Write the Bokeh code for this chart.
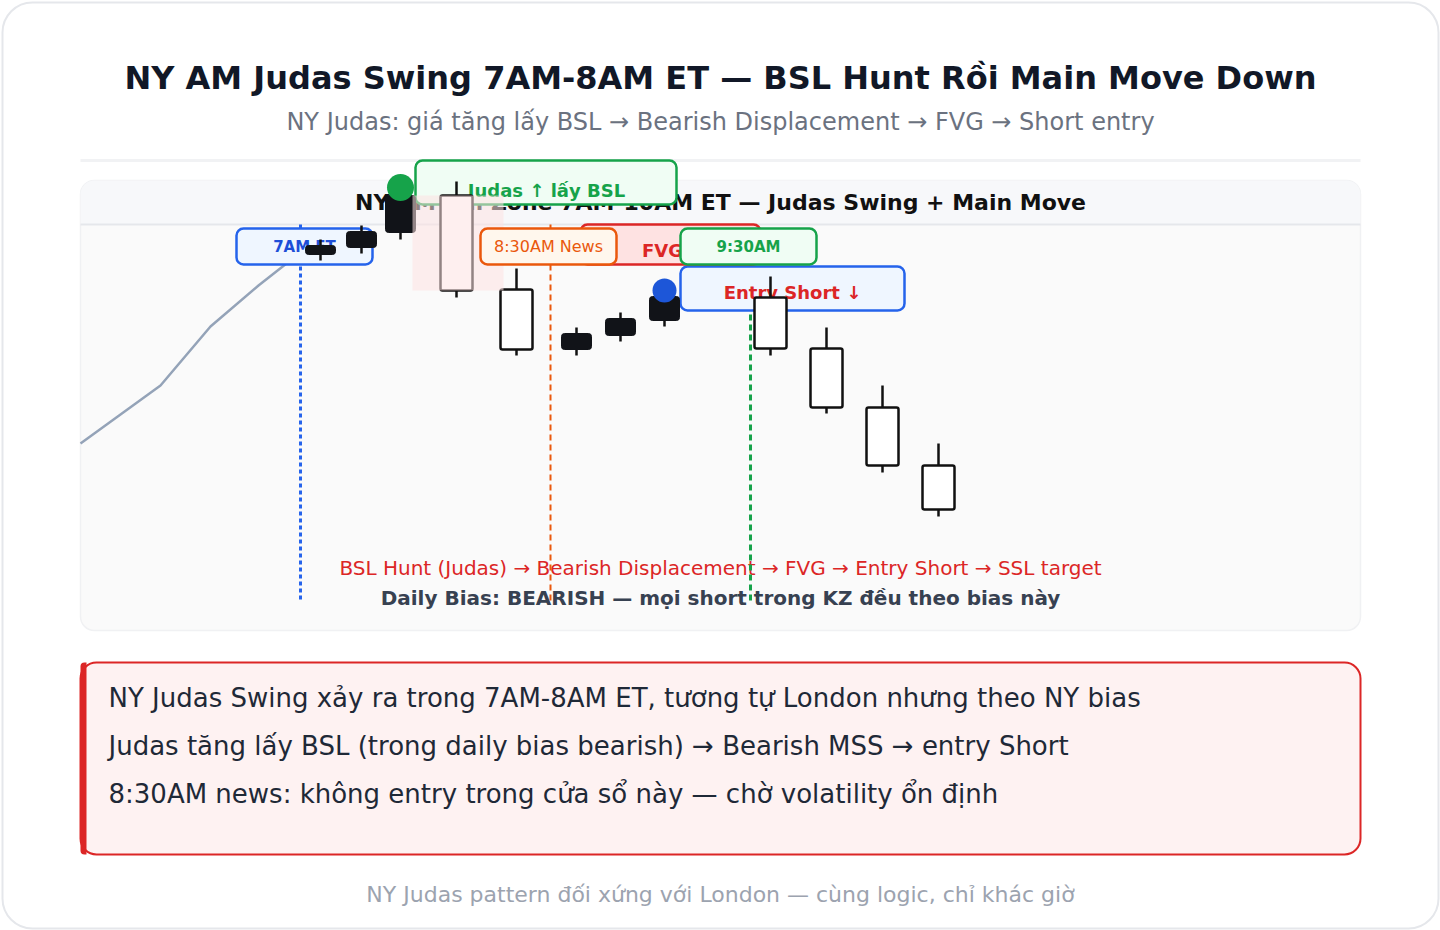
from bokeh.plotting import figure
from bokeh.models import Range1d, ColumnDataSource
from bokeh.core.properties import value
from bokeh.embed import file_html
from bokeh.resources import INLINE

FONT = value("DejaVu Sans")

# ---------------- data ----------------
candle_x = [320, 361, 400, 456, 516, 576, 620, 664, 770, 826, 882, 938]
opens  = [137.6, 138.3, 139.8, 143.5, 134.1, 128.1, 129.5, 131.0, 133.3, 128.2, 122.3, 116.5]
highs  = [139.1, 140.5, 144.3, 144.9, 136.2, 130.3, 131.8, 134.0, 135.4, 130.3, 124.5, 118.7]
lows   = [137.0, 137.7, 139.1, 133.3, 127.5, 127.5, 128.9, 130.4, 127.5, 121.7, 115.8, 111.4]
closes = [138.5, 139.9, 143.5, 134.0, 128.1, 129.7, 131.2, 133.4, 128.2, 122.3, 116.5, 112.1]

pre_x = [80, 160, 210, 258, 300]
pre_price = [118.7, 124.5, 130.4, 134.5, 137.8]

event_x = [300, 550, 750]
event_labels = ["7AM ET", "8:30AM News", "9:30AM"]

judas_idx = 2      # BSL sweep high
entry_idx = 7      # retrace high before short
disp_idx = 3       # bearish displacement candle

title = "NY AM Judas Swing 7AM-8AM ET — BSL Hunt Rồi Main Move Down"
subtitle = "NY Judas: giá tăng lấy BSL → Bearish Displacement → FVG → Short entry"
panel_title = "NY AM Kill Zone 7AM-10AM ET — Judas Swing + Main Move"
flow_text = "BSL Hunt (Judas) → Bearish Displacement → FVG → Entry Short → SSL target"
bias_text = "Daily Bias: BEARISH — mọi short trong KZ đều theo bias này"
notes = [
    "NY Judas Swing xảy ra trong 7AM-8AM ET, tương tự London nhưng theo NY bias",
    "Judas tăng lấy BSL (trong daily bias bearish) → Bearish MSS → entry Short",
    "8:30AM news: không entry trong cửa sổ này — chờ volatility ổn định",
]
footer = "NY Judas pattern đối xứng với London — cùng logic, chỉ khác giờ"

# ---------------- figure ----------------
p = figure(width=1440, height=930, x_range=Range1d(0, 1440), y_range=Range1d(930, 0),
           x_axis_type=None, y_axis_type=None, toolbar_location=None,
           output_backend="svg", min_border=0, outline_line_color=None,
           background_fill_color="white", border_fill_color="white")
p.extra_x_ranges = {"t": Range1d(0, 1440)}
p.extra_y_ranges = {"price": Range1d(70, 163)}


def txt(x, y, s, size, color, bold=False, align="center"):
    p.text(x=[x], y=[y], text=[s], text_font=FONT, text_font_size=value(f"{size}px"),
           text_font_style="bold" if bold else "normal", text_color=color,
           text_align=align, text_baseline="middle")


def box(l, r, t, b, fill, line, lw=2.5, radius=7, alpha=1.0):
    p.quad(left=[l], right=[r], top=[t], bottom=[b], fill_color=fill, fill_alpha=alpha,
           line_color=line, line_width=lw, border_radius=radius)


# card
box(2, 1438, 2, 928, "white", "#e5e7eb", lw=2, radius=30)
txt(720, 77, title, 32, "#111827", bold=True)
txt(720, 121, subtitle, 24, "#6b7280")
p.segment(x0=[80], y0=[160], x1=[1360], y1=[160], line_color="#f1f2f4", line_width=3)

# chart panel
box(80, 1360, 180, 630, "#fafafa", "#f0f1f3", lw=1.5, radius=14)
p.quad(left=[80], right=[1360], top=[180], bottom=[224], fill_color="#f7f8fa",
       line_color=None, border_radius=(14, 14, 0, 0))
p.segment(x0=[80], y0=[224], x1=[1360], y1=[224], line_color="#e5e7eb", line_width=2)
txt(720, 202, panel_title, 22, "#111111", bold=True)

# pre-session drift
p.line(pre_x, pre_price, x_range_name="t", y_range_name="price",
       line_color="#94a3b8", line_width=2.5)

# bottom captions
txt(720, 567, flow_text, 20, "#dc2626")
txt(720, 597, bias_text, 20, "#374151", bold=True)

# event lines
ev_colors = ["#2563eb", "#ea580c", "#16a34a"]
ev_dash = ["4 3", "6 4", "6 4"]
ev_width = [3, 2, 3]
for ex, c, d, w in zip(event_x, ev_colors, ev_dash, ev_width):
    p.segment(x0=[ex], y0=[224], x1=[ex], y1=[600], line_color=c, line_dash=d, line_width=w)

# labels under the candles
box(236, 372, 228, 264, "#eff6ff", "#2563eb")
txt(304, 246, event_labels[0], 15, "#1d4ed8", bold=True)

box(415, 676, 160, 204, "#f0fdf4", "#16a34a")
txt(546, 190, "Judas ↑ lấy BSL", 18, "#16a34a", bold=True)

box(680, 904, 266, 310, "#eff6ff", "#2563eb")
txt(792, 292, "Entry Short ↓", 18, "#dc2626", bold=True)

# candles
up = [c > o for o, c in zip(opens, closes)]
src = ColumnDataSource(dict(
    x=candle_x, high=highs, low=lows,
    top=[max(o, c) for o, c in zip(opens, closes)],
    bottom=[min(o, c) for o, c in zip(opens, closes)],
    up=up,
))
up_src = ColumnDataSource({k: [v for v, u in zip(vals, up) if u] for k, vals in src.data.items()})
dn_src = ColumnDataSource({k: [v for v, u in zip(vals, up) if not u] for k, vals in src.data.items()})

p.segment(x0="x", y0="low", x1="x", y1="high", source=src, x_range_name="t",
          y_range_name="price", line_color="#111111", line_width=2.5)
p.vbar(x="x", width=30, top="top", bottom="bottom", source=up_src, x_range_name="t",
       y_range_name="price", fill_color="#111318", line_color="#111318", line_width=1,
       border_radius=3)
p.vbar(x="x", width=32, top="top", bottom="bottom", source=dn_src, x_range_name="t",
       y_range_name="price", fill_color="white", line_color="#111111", line_width=2.5,
       border_radius=2)

# displacement highlight
p.quad(left=[412], right=[503], top=[opens[disp_idx]], bottom=[closes[disp_idx]],
       x_range_name="t", y_range_name="price", fill_color="#fee2e2", fill_alpha=0.55,
       line_color=None)

# labels above the candles
box(580, 760, 224, 264, "#fee2e2", "#dc2626")
txt(662, 250, "FVG", 18, "#dc2626", bold=True)

box(480, 616, 228, 264, "#fff7ed", "#ea580c")
txt(548, 246, event_labels[1], 16, "#ea580c")

box(680, 816, 228, 264, "#f0fdf4", "#16a34a")
txt(748, 246, event_labels[2], 15, "#16a34a", bold=True)

# swing markers
p.scatter(x=[candle_x[judas_idx]], y=[highs[judas_idx]], size=27, x_range_name="t",
          y_range_name="price", fill_color="#16a34a", line_color=None)
p.scatter(x=[candle_x[entry_idx]], y=[highs[entry_idx]], size=24, x_range_name="t",
          y_range_name="price", fill_color="#1d56d8", line_color=None)

# info box
box(80, 1360, 662, 854, "#fef2f2", "#dc2626", lw=2, radius=16)
p.quad(left=[80], right=[86], top=[662], bottom=[854], fill_color="#dc2626",
       line_color=None, border_radius=(4, 0, 0, 4))
for i, s in enumerate(notes):
    txt(108, 697 + 48 * i, s, 26, "#1f2937", align="left")

txt(720, 894, footer, 22, "#9ca3af")

open("out.html", "w").write(file_html(p, INLINE))
